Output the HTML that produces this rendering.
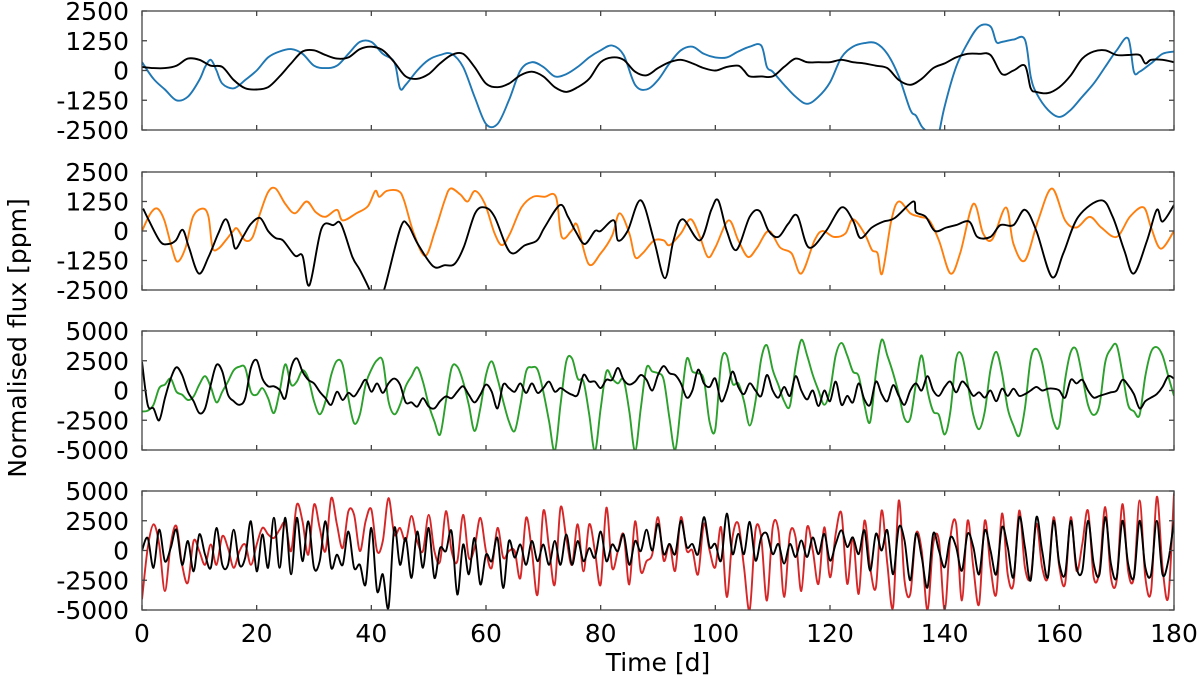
<!DOCTYPE html>
<html><head><meta charset="utf-8"><style>
html,body{margin:0;padding:0;background:#fff;}
svg{display:block;font-family:"DejaVu Sans","Liberation Sans",sans-serif;}
</style></head><body>
<svg id="chart" width="1200" height="679" viewBox="0 0 1200 679">
<text x="0" y="0" transform="translate(26,338) rotate(-90)" text-anchor="middle" font-size="25" fill="#000">Normalised flux [ppm]</text>
<text x="658" y="671" text-anchor="middle" font-size="25" fill="#000">Time [d]</text>
</svg>
<script>
// ---------- data ----------
const xTicks=[0,20,40,60,80,100,120,140,160,180];
const yTicksSmall=[2500,1250,0,-1250,-2500];
const yTicksLarge=[5000,2500,0,-2500,-5000];

const p1BlueT=[0,2,4,6,8,10,11,12,13,14,16,18,20,22,24,26,28,30,32,34,36,38,40,42,44,45,46,48,50,52,54,56,58,60,62,64,66,68,70,72,74,76,78,80,82,84,86,88,90,92,94,96,98,100,102,104,106,108,109,110,112,114,116,118,120,122,124,126,128,130,132,134,135,136,137,138,139,140,142,144,146,148,149,150,152,154,155,156,158,160,162,164,166,168,170,172,173,174,176,178,180];
const p1BlueV=[350,-350,-800,-1250,-1100,-400,150,450,0,-550,-750,-400,0,550,800,900,700,200,100,200,700,1200,1200,700,350,-750,-600,0,450,650,700,150,-1100,-2250,-2250,-1250,0,350,150,-250,-150,150,550,850,1050,650,-600,-800,-400,300,850,1000,700,550,550,800,1000,1050,150,-50,-600,-1100,-1400,-1100,-500,550,1000,1150,1150,700,-250,-1650,-1900,-2350,-2650,-3500,-2650,-1500,150,1150,1850,1850,1200,1200,1300,1300,-250,-950,-1650,-1950,-1650,-1100,-550,150,850,1350,-50,-50,300,700,800];
const p1BlackT=[0,2,4,6,8,10,12,14,16,18,20,22,24,26,28,30,32,34,36,38,40,42,44,46,48,50,52,54,56,58,60,62,64,66,68,70,72,74,76,78,80,82,84,86,88,90,92,94,96,98,100,102,104,105,106,108,110,112,114,116,118,120,122,124,126,128,130,132,134,136,138,140,142,144,146,148,150,152,154,155,156,158,160,162,164,166,168,170,172,174,175,176,178,180];
const p1BlackV=[150,100,100,200,500,450,200,150,-400,-750,-800,-700,-250,300,800,850,650,500,550,900,1000,850,350,-250,-350,-150,300,650,700,150,-550,-700,-550,-200,-50,-250,-700,-900,-700,-350,350,550,450,-50,-200,100,350,450,300,100,0,150,200,0,-250,-250,-250,150,500,350,350,350,450,350,300,200,100,-400,-600,-350,100,300,550,700,700,650,-150,0,200,-750,-900,-950,-700,-200,500,800,850,650,650,650,300,450,450,350];

const p2OrangeT=[0,1.5,2.7,3.9,5.2,6.2,7.6,8.9,10.6,11.6,12.3,13.3,14.6,15.9,16.6,18,19.3,20.6,22,23.3,25,26.7,28.7,30.3,32,34,35,37.4,39.4,40.7,41.4,42.7,44.7,45.7,47.4,49.4,51.1,52.8,53.8,55.5,56.8,58.1,59.8,61.5,62.8,64.2,66.2,68.2,70.2,72.2,73.2,74.9,75.9,77.9,80,82,83.3,85,86,87.3,89.3,91,92,94,95.7,97.3,98.7,100,102.3,104,105.7,107.3,109.3,111.3,113.3,115,117.3,118.7,120.7,122.7,124,126,127.3,128.3,129.1,130.7,132,134,135.7,137.3,139,141,142.7,145,146.7,148.3,150.7,152,154,156.3,158.7,161,163,165.3,167.3,170,172.3,174.7,176,177.7,180];
const p2OrangeV=[0,750,950,450,-700,-1300,-700,600,950,600,-700,-750,-400,0,100,-400,-250,750,1650,1800,1150,750,1250,800,600,900,450,750,1050,1700,1450,1700,1700,1300,-100,-1050,0,1300,1800,1550,1250,1700,1150,-100,-600,-100,1000,1450,1450,1450,-250,0,250,-1400,-950,-200,750,-100,-1100,-950,-400,-400,-600,-100,500,-250,-1100,-700,450,-400,-1100,-700,0,-700,-950,-1800,-400,0,-250,-100,500,-100,-800,-950,-1800,450,1250,750,600,450,-400,-1800,-950,1150,-100,-350,1000,-550,-1250,450,1800,450,150,600,150,-250,600,1000,150,-750,0];
const p2BlackT=[0.2,1.2,3.2,4.6,5.9,7.1,8.2,9.9,11.6,13.3,14.6,15.6,16.3,17.6,19,20.6,22,23.3,24.6,26.7,28,29.2,31.3,33.4,34.7,36.7,38,39.7,40,41.4,42.4,45.1,46.4,48.1,50.8,52.8,54.5,56.1,58.1,59.8,61.5,64.2,66.8,68.9,70.2,72.9,74.3,75.6,77.2,79,80,82.3,83,84.7,87,89.3,91.2,92.7,94.3,97.3,99.3,100.5,102,103.7,106,107.7,109.3,111,112.7,114.3,116.3,119.3,122,124,125.3,127.3,129.3,131.3,134.5,135,136.7,138.3,140.3,142,144.3,145.7,148,149.7,152,154,156,158.7,160.7,163.3,167.3,169.3,171.3,173,175.3,177,178,180];
const p2BlackV=[950,450,-450,-550,-400,50,-700,-1800,-1100,-100,500,-100,-750,-250,300,550,0,-300,-400,-1050,-1050,-2300,100,250,300,-1100,-1650,-2500,-2900,-2900,-2350,150,250,-550,-1500,-1450,-1400,-700,750,1000,600,-900,-600,-400,150,1100,600,0,-550,0,0,450,-400,0,1300,-400,-2000,-400,500,-400,900,1300,0,-800,600,850,0,-250,300,650,-700,0,1000,450,-300,150,400,550,1250,800,600,0,150,250,400,-250,-250,250,250,900,0,-1950,-950,600,1300,600,-800,-1800,-400,900,400,1100];

const p3Green=[-1760,-1700,-1200,200,500,1000,-100,-350,-800,-500,500,1200,300,-1000,-100,750,1700,2000,1900,-100,-350,200,-650,-1900,-100,2200,500,750,1700,1000,-900,-2000,-900,1300,2500,2150,-650,-2750,-2000,500,1750,2550,2450,-900,-2000,-1200,350,1200,1950,750,-1200,-2600,-3700,-900,1900,2000,750,-1200,-3400,-1500,1300,2450,1000,-900,-2600,-3400,-1200,1600,1950,1750,-100,-2600,-5100,-1200,2450,2700,1000,750,-2000,-5100,-1500,1600,1000,600,900,-1750,-5100,-1500,1900,1600,1450,900,-2350,-5000,-1200,2650,1600,1450,900,-2650,-3250,2350,2950,600,600,-900,-2950,-900,2650,3800,1750,450,-900,-1300,2050,4250,2950,1300,0,-1200,0,2950,4000,2950,1600,1200,-1200,-2650,1450,4250,2950,1450,-300,-2350,-2350,600,2950,0,-1750,-2050,-3700,-1750,2650,2950,600,-2050,-3250,-1750,1750,3250,1450,-1500,-2950,-3800,-1500,2650,3500,2350,-300,-2650,-2950,900,3250,3400,1200,-1200,-2050,-1200,2350,3500,3800,1450,-1200,-1750,-2050,1200,3250,3650,2950,1200,-450];
const p3Black=[2400,-1200,-1500,-2500,-650,1000,1950,1300,-100,-900,-1900,-1500,500,2150,1600,-350,-900,-1200,-650,1900,2550,1000,350,350,50,-650,1900,2700,1600,900,600,-100,-650,-1200,-100,-800,-200,-500,200,900,-100,600,-200,600,1000,500,-1000,-1000,-1350,-650,-1350,-1500,-900,-500,-650,-100,350,-350,-1000,-350,500,-100,-1500,500,200,-100,600,-200,600,-200,200,750,-100,200,-100,-350,-350,1300,750,750,200,900,900,1900,900,500,750,1300,900,0,1300,2050,1450,1300,600,-600,0,1750,600,300,1000,-900,0,1600,300,-300,600,0,-450,1300,0,-600,300,-450,1200,0,-750,0,-1300,0,-900,750,-1200,-450,-1000,600,-750,-1200,750,-300,-900,450,-450,-1200,0,600,0,1200,0,-450,300,750,-150,750,300,-450,-150,-600,0,-900,150,-450,150,-450,-300,0,300,0,150,150,0,-600,900,600,900,0,-600,-450,-300,-150,0,900,450,-300,-1500,-900,-600,-300,300,1200,1000];

const p4Red=[-4100,200,2200,500,-3400,500,2050,-1200,-2700,800,-50,-1200,500,-1200,1200,200,-1450,-50,500,-1200,500,1900,1350,1050,1750,2300,-50,3850,2450,-350,3850,1900,-50,4400,2200,200,3300,3000,-50,2450,3450,-50,800,4400,1350,1900,800,2900,800,-50,3000,-50,-900,3300,-50,-900,3000,-600,200,2750,-50,-1450,1900,-600,-50,-50,-2300,2750,-50,-3700,3300,200,-2850,3600,1050,-1200,2200,-1750,2200,-50,-2850,3600,-1450,-50,1350,-2850,2450,-1750,-900,-300,2800,-850,550,-1700,2800,0,0,-2000,2250,0,-1400,1950,-3900,1100,2250,-1400,-5000,1700,1100,-4200,1950,1700,-3900,1400,1100,-3400,1950,0,-2800,1950,-2250,1400,3100,-2800,1100,-3650,2500,-1400,-3100,3350,-1100,-4750,4200,-2500,-3650,1400,0,-5000,550,850,-5000,1100,2250,-4200,2500,-1400,-4500,2500,-1400,-3650,3100,-2000,-2800,3350,-1400,-2250,2250,-1400,-2250,2800,-1400,-2800,2800,-1700,550,3350,-2250,-1700,3650,-2250,-2500,3900,-1700,-2250,4200,-2250,-3400,4500,-1400,-3900,4800];
const p4Black=[0,1050,-1450,1750,-900,200,1750,-1200,800,-1750,1350,-350,-1450,1900,-1200,-1200,1750,-1200,-600,2450,-1750,1350,-1450,2750,-1450,2750,-2000,2750,-900,2450,-1450,-900,2450,-1450,-350,-1200,1600,-1450,-1200,-2850,1900,-3400,-2000,-4800,1900,-1200,1050,-2300,1600,-1450,1900,-2300,200,-50,1600,-3700,500,-2000,1050,-2850,-350,-900,1050,-3150,800,-600,500,-1200,800,-900,500,-1200,800,-1200,1350,-1200,800,-900,200,-600,1600,-900,500,-50,1350,-1200,800,-50,1750,0,2250,-300,550,-300,2500,300,550,-300,2800,300,550,-850,3100,-300,1400,-300,2400,-850,1100,1400,-300,550,-1100,550,-550,850,-550,1100,-300,1400,-850,550,1700,300,1100,-300,1700,-1700,1400,0,1700,-2000,1950,850,-2500,1400,-550,-3100,1400,0,-1400,1100,300,-1700,1400,300,-2000,1700,0,-2000,1950,300,-2250,2800,300,-2500,2800,0,-2250,2500,-1100,-2000,2500,-1400,-1700,2500,-1100,-2000,2800,-1100,-2250,2500,-1100,-2250,2500,-1400,-2000,2500,-2000,-850,2500];

// ---------- drawing ----------
const NS='http://www.w3.org/2000/svg';
const svg=document.getElementById('chart');
const X0=142,X1=1174;
function xs(d){return X0+(d-0)/(180-0)*(X1-X0);}
function mk(tag,attrs,parent){const e=document.createElementNS(NS,tag);for(const k in attrs)e.setAttribute(k,attrs[k]);(parent||svg).appendChild(e);return e;}
function smoothPath(P){
  let d='M'+P[0][0].toFixed(1)+','+P[0][1].toFixed(1);
  for(let i=0;i<P.length-1;i++){
    const p0=P[Math.max(0,i-1)],p1=P[i],p2=P[i+1],p3=P[Math.min(P.length-1,i+2)];
    const c1x=p1[0]+(p2[0]-p0[0])/6,c1y=p1[1]+(p2[1]-p0[1])/6;
    const c2x=p2[0]-(p3[0]-p1[0])/6,c2y=p2[1]-(p3[1]-p1[1])/6;
    d+=' C'+c1x.toFixed(1)+','+c1y.toFixed(1)+' '+c2x.toFixed(1)+','+c2y.toFixed(1)+' '+p2[0].toFixed(1)+','+p2[1].toFixed(1);
  }
  return d;
}

const panels=[
 {top:11,bot:130,lim:2500,ticks:yTicksSmall,name:'panel-1',series:[{t:p1BlueT,v:p1BlueV,c:'#1f77b4',n:'blue-series'},{t:p1BlackT,v:p1BlackV,c:'#000',n:'black-series-1'}]},
 {top:172,bot:290,lim:2500,ticks:yTicksSmall,name:'panel-2',series:[{t:p2OrangeT,v:p2OrangeV,c:'#ff7f0e',n:'orange-series'},{t:p2BlackT,v:p2BlackV,c:'#000',n:'black-series-2'}]},
 {top:331,bot:450,lim:5000,ticks:yTicksLarge,name:'panel-3',series:[{t:null,v:p3Green,c:'#2ca02c',n:'green-series'},{t:null,v:p3Black,c:'#000',n:'black-series-3'}]},
 {top:491,bot:610,lim:5000,ticks:yTicksLarge,name:'panel-4',series:[{t:null,v:p4Red,c:'#d62728',n:'red-series'},{t:null,v:p4Black,c:'#000',n:'black-series-4'}]}
];

panels.forEach((p,pi)=>{
  const ys=v=>p.bot-(v+p.lim)/(2*p.lim)*(p.bot-p.top);
  const g=mk('g',{});
  
  
  const cp=mk('clipPath',{id:'clip'+pi},g);
  mk('rect',{x:X0,y:p.top,width:X1-X0,height:p.bot-p.top},cp);
  p.series.forEach(s=>{
    const P=s.v.map((v,i)=>{const t=s.t?s.t[i]:i;return [xs(t),ys(v)];});
    const pl=mk('path',{d:smoothPath(P),fill:'none',stroke:s.c,'stroke-width':1.9,'stroke-linejoin':'round','clip-path':'url(#clip'+pi+')'},g);
    
    
  });
  const fr=mk('rect',{x:X0,y:p.top,width:X1-X0,height:p.bot-p.top,fill:'none',stroke:'#444','stroke-width':1.3},g);
  
  
  xTicks.forEach(t=>{
    const x=xs(t);
    mk('line',{x1:x,x2:x,y1:p.bot,y2:p.bot-5,stroke:'#444','stroke-width':1.3},g);
    mk('line',{x1:x,x2:x,y1:p.top,y2:p.top+5,stroke:'#444','stroke-width':1.3},g);
    if(pi===3){
      const lb=mk('text',{x:x,y:642,'text-anchor':'middle','font-size':25,fill:'#000'},g);
      lb.textContent=t;
      
      
    }
  });
  p.ticks.forEach(v=>{
    const y=ys(v);
    mk('line',{x1:X0,x2:X0+5,y1:y,y2:y,stroke:'#444','stroke-width':1.3},g);
    mk('line',{x1:X1,x2:X1-5,y1:y,y2:y,stroke:'#444','stroke-width':1.3},g);
    const lb=mk('text',{x:129,y:y+9,'text-anchor':'end','font-size':25,fill:'#000'},g);
    lb.textContent=v;
    
    
  });
});
</script>
</body></html>
